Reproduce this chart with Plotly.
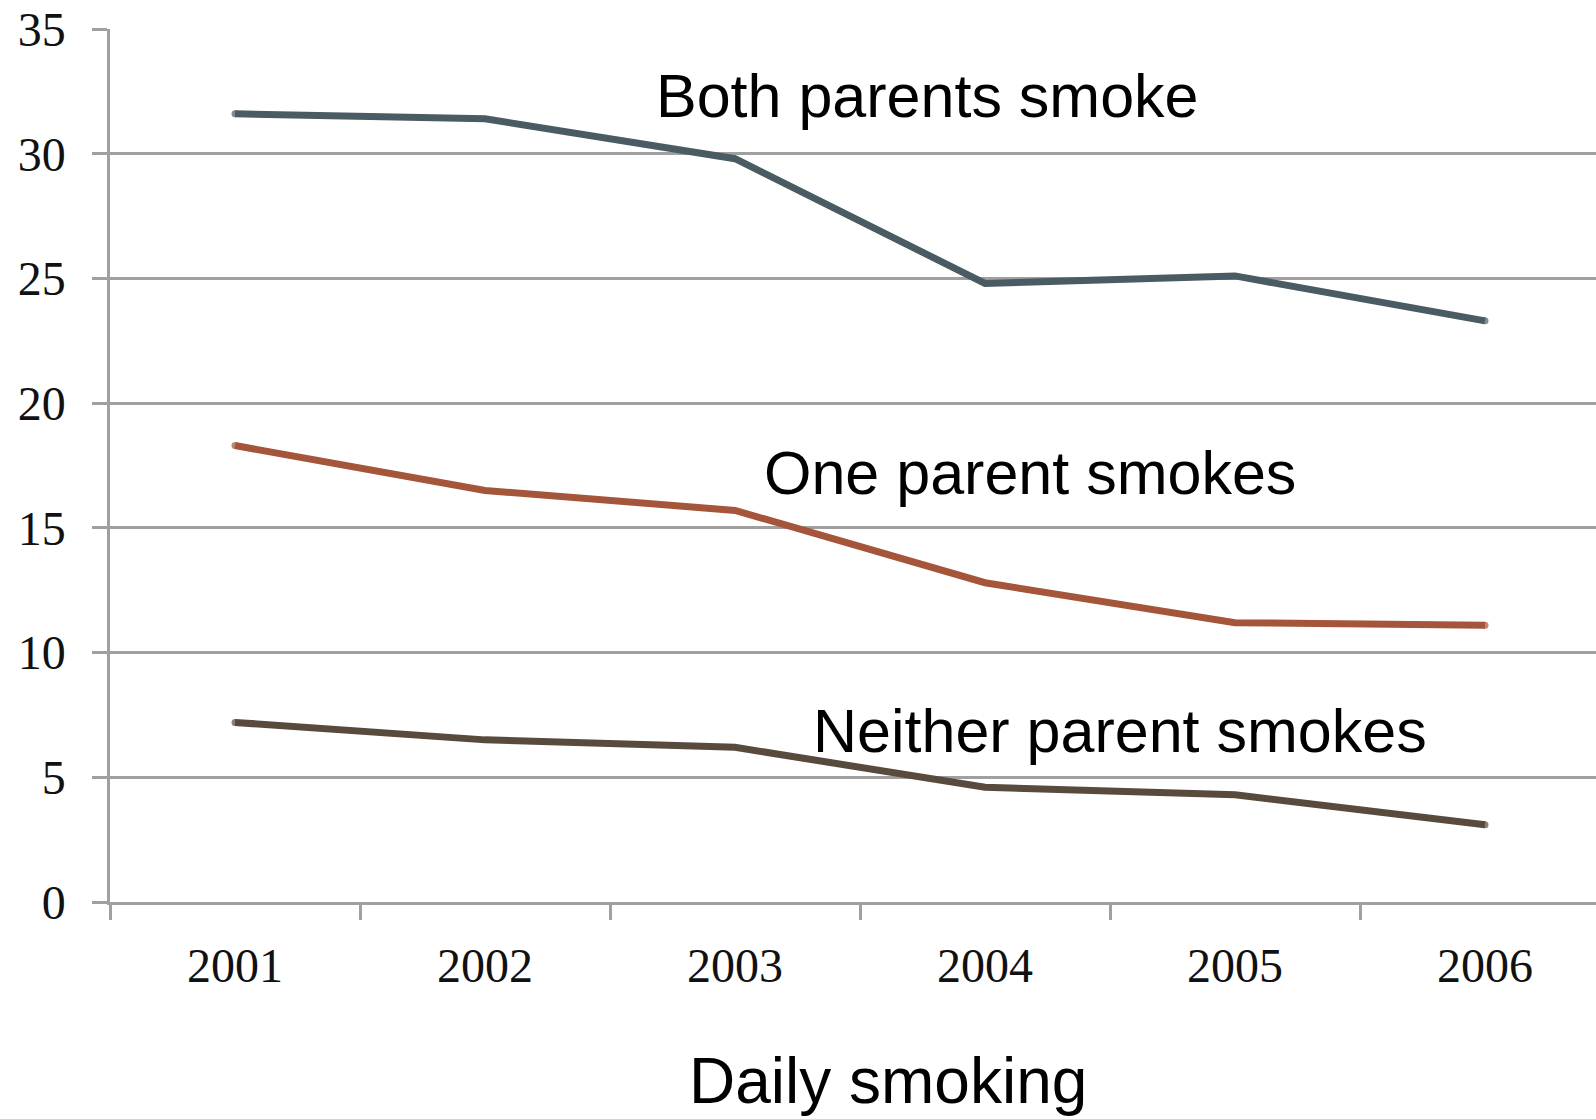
import plotly.graph_objects as go

# Survey years and share of daily smokers (%) by parental smoking status
years = ["2001", "2002", "2003", "2004", "2005", "2006"]
both_parents = [31.6, 31.4, 29.8, 24.8, 25.1, 23.3]
one_parent = [18.3, 16.5, 15.7, 12.8, 11.2, 11.1]
neither_parent = [7.2, 6.5, 6.2, 4.6, 4.3, 3.1]

y_ticks = [0, 5, 10, 15, 20, 25, 30, 35]

series = [
    ("Both parents smoke", both_parents, "#4b5b63", 2.77, 32.3),
    ("One parent smokes", one_parent, "#a4553a", 3.18, 17.2),
    ("Neither parent smokes", neither_parent, "#584a3d", 3.54, 6.85),
]

GRID = "#a0a0a0"
LINE_W = 7

fig = go.Figure()
for name, vals, color, lx, ly in series:
    # rounded ends: a dot the width of the line at the first and last year
    cap_sizes = [LINE_W] + [0] * (len(vals) - 2) + [LINE_W]
    fig.add_trace(go.Scatter(
        x=years, y=vals, mode="lines+markers", name=name,
        line=dict(color=color, width=LINE_W),
        marker=dict(color=color, size=cap_sizes, line=dict(width=0)),
    ))
    fig.add_annotation(
        x=lx, y=ly, xref="x", yref="y", text=name, showarrow=False,
        font=dict(family="Liberation Sans, Arial, sans-serif", size=61, color="#000000"),
        xanchor="center", yanchor="middle",
    )

# Axis caption below the year labels
fig.add_annotation(
    x=2.61, y=-0.205, xref="x", yref="paper", text="Daily smoking", showarrow=False,
    font=dict(family="Liberation Sans, Arial, sans-serif", size=64, color="#000000"),
    xanchor="center", yanchor="middle",
)

fig.update_layout(
    width=1596, height=1119,
    margin=dict(l=110, r=0, t=29, b=217),
    paper_bgcolor="white", plot_bgcolor="white",
    showlegend=False,
    xaxis=dict(
        type="category", categoryorder="array", categoryarray=years,
        range=[-0.5, 5.444],
        showgrid=False, zeroline=False,
        showline=True, linecolor=GRID, linewidth=2.5,
        ticks="outside", tickson="boundaries", ticklen=15, tickwidth=2.5, tickcolor=GRID,
        tickfont=dict(family="Liberation Serif, Times New Roman, serif", size=48, color="#111111"),
        ticklabelstandoff=20,
    ),
    yaxis=dict(
        range=[0, 35], tickvals=y_ticks, ticktext=[str(v) for v in y_ticks],
        showgrid=True, gridcolor=GRID, gridwidth=2.5,
        zeroline=False,
        showline=True, linecolor=GRID, linewidth=2.5,
        ticks="outside", ticklen=15, tickwidth=2.5, tickcolor=GRID,
        tickfont=dict(family="Liberation Serif, Times New Roman, serif", size=48, color="#111111"),
        ticklabelstandoff=17,
    ),
)

fig.write_html("out.html")
